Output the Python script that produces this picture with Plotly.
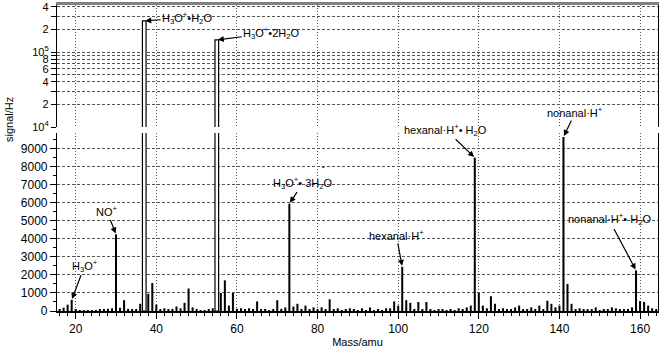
import math
import plotly.graph_objects as go

# ---------------- data ----------------
masses = list(range(15, 165))
signal = [
    40, 60, 180, 350, 620, 60, 40, 30, 40, 30,          # 15-24
    40, 80, 60, 120, 150, 4250, 180, 600, 120, 60,       # 25-34
    80, 400, 260000, 950, 1550, 350, 80, 150, 60, 120,   # 35-44
    250, 150, 450, 1250, 200, 60, 50, 40, 60, 150,       # 45-54
    145000, 1000, 1700, 300, 1000, 120, 150, 60, 150, 80,  # 55-64
    530, 60, 100, 50, 80, 600, 120, 200, 5950, 250,      # 65-74
    400, 120, 300, 60, 200, 60, 200, 80, 650, 60,        # 75-84
    150, 50, 80, 150, 60, 50, 150, 50, 200, 40,          # 85-94
    100, 50, 150, 150, 530, 300, 2450, 600, 450, 120,    # 95-104
    500, 100, 500, 100, 50, 60, 100, 50, 100, 50,        # 105-114
    150, 60, 200, 300, 8500, 1000, 300, 150, 820, 400,   # 115-124
    80, 150, 100, 60, 200, 300, 80, 100, 200, 80,        # 125-134
    300, 80, 570, 400, 200, 300, 9650, 1500, 400, 100,   # 135-144
    150, 100, 60, 80, 200, 50, 100, 60, 200, 150,        # 145-154
    60, 100, 60, 200, 2250, 550, 500, 300, 150, 100,     # 155-164
]

peak_labels = {
    19: "H<sub>3</sub>O<sup>+</sup>",
    30: "NO<sup>+</sup>",
    37: "H<sub>3</sub>O<sup>+</sup>•H<sub>2</sub>O",
    55: "H<sub>3</sub>O<sup>+</sup>•2H<sub>2</sub>O",
    73: "H<sub>3</sub>O<sup>+</sup>• 3H<sub>2</sub>O",
    101: "hexanal·H<sup>+</sup>",
    119: "hexanal·H<sup>+</sup>• H<sub>2</sub>O",
    141: "nonanal·H<sup>+</sup>",
    159: "nonanal·H<sup>+</sup>• H<sub>2</sub>O",
}

x_ticks = [20, 40, 60, 80, 100, 120, 140, 160]
lin_ticks = [0, 1000, 2000, 3000, 4000, 5000, 6000, 7000, 8000, 9000]
log_tickvals = [1e4, 2e4, 3e4, 4e4, 5e4, 6e4, 7e4, 8e4, 9e4, 1e5, 2e5, 3e5, 4e5]
log_ticktext = ["10<sup>4</sup>", "2", "", "4", "", "6", "", "8", "",
                "10<sup>5</sup>", "2", "", "4"]

# ---------------- style ----------------
FONT = "Liberation Sans, Arial, sans-serif"
break_val = 1e4
# text offsets (pixels) from arrow tip for each label
offsets = {19: (13, -34), 30: (-9, -23), 37: (43, -3), 55: (55, -7),
           73: (14, -21), 101: (-6, -32), 119: (-29, -28), 141: (12, -25),
           159: (-27, -51)}

sat_x = [m for m, s in zip(masses, signal) if s > break_val]
sat_y = [s for s in signal if s > break_val]
reg_x = [m for m, s in zip(masses, signal) if s <= break_val]
reg_y = [s for s in signal if s <= break_val]

fig = go.Figure()
for xa, ya in (("x", "y"), ("x2", "y2")):
    fig.add_trace(go.Bar(x=reg_x, y=reg_y, width=0.5, xaxis=xa, yaxis=ya,
                         marker=dict(color="black", line=dict(width=0)),
                         showlegend=False, hoverinfo="skip"))
    fig.add_trace(go.Bar(x=sat_x, y=sat_y, width=0.9, xaxis=xa, yaxis=ya,
                         marker=dict(color="white", line=dict(width=1.2, color="black")),
                         showlegend=False, hoverinfo="skip"))

grid_col = "#555555"
axis_common = dict(showline=True, linecolor="black", linewidth=1.2,
                   tickfont=dict(family=FONT, size=12, color="black"),
                   zeroline=False, tickcolor="black")

bot_top_px = 133
top_bot_px = 127
plot_top, plot_bot = 5, 311
H = plot_bot - plot_top
W_L, W_R = 57, 658

fig.update_layout(
    width=661, height=349,
    margin=dict(l=W_L, r=661 - W_R, t=plot_top, b=349 - plot_bot, autoexpand=False),
    paper_bgcolor="white", plot_bgcolor="white",
    barmode="overlay",
    font=dict(family=FONT, size=11, color="black"),
    xaxis=dict(range=[15.36, 164.45], anchor="y", tickvals=x_ticks,
               ticks="outside", ticklen=6, linewidth=1.8,
               minor=dict(dtick=2, tick0=0, ticks="outside", ticklen=3, tickcolor="black"),
               showgrid=True, gridcolor=grid_col, griddash="1px,2px", gridwidth=1,
               title=dict(text="Mass/amu", font=dict(family=FONT, size=11), standoff=3),
               **{k: v for k, v in axis_common.items() if k != "linewidth"}),
    xaxis2=dict(matches="x", anchor="y2", side="top", showline=True,
                linecolor="#808080", linewidth=2.5, ticks="", showticklabels=False,
                showgrid=True, gridcolor=grid_col, griddash="1px,2px", gridwidth=1,
                zeroline=False),
    yaxis=dict(domain=[0, (plot_bot - bot_top_px) / H], range=[0, 9870],
               tickvals=lin_ticks, ticks="outside", ticklen=6, mirror=True,
               minor=dict(dtick=500, tick0=0, ticks="outside", ticklen=3, tickcolor="black"),
               showgrid=True, gridcolor=grid_col, griddash="3px,2px", gridwidth=1,
               **axis_common),
    yaxis2=dict(domain=[(plot_bot - top_bot_px) / H, 1], type="log",
                range=[4, 5.627], tickvals=log_tickvals, ticktext=log_ticktext,
                ticks="outside", ticklen=5, mirror=True,
                showgrid=True, gridcolor=grid_col, griddash="3px,2px", gridwidth=1,
                **{**axis_common, "tickfont": dict(family=FONT, size=11, color="black")}),
)

sig = dict(zip(masses, signal))
for m, label in peak_labels.items():
    v = sig[m]
    top = v > break_val
    ax, ay = offsets[m]
    fig.add_annotation(x=m, y=math.log10(v) if top else v,
                       xref="x2" if top else "x", yref="y2" if top else "y",
                       text=label, showarrow=True, arrowhead=2, arrowsize=1,
                       arrowwidth=1.2, arrowcolor="black", standoff=1,
                       ax=ax, ay=ay, font=dict(family=FONT, size=11, color="black"))

# stray dot near the H3O+·3H2O label in the original
fig.add_annotation(x=81.3, y=8000, xref="x", yref="y", text="•", showarrow=False,
                   font=dict(size=6, color="black"))

# y-axis title
fig.add_annotation(x=(9 - W_L) / (W_R - W_L), y=1 - (120 - plot_top) / H,
                   xref="paper", yref="paper",
                   xanchor="center", yanchor="middle", text="signal/Hz",
                   textangle=-90, showarrow=False,
                   font=dict(family=FONT, size=11, color="black"))

fig.write_html("out.html", config={"displayModeBar": False},
               post_script="document.body.style.margin='0';document.body.style.padding='0';")
